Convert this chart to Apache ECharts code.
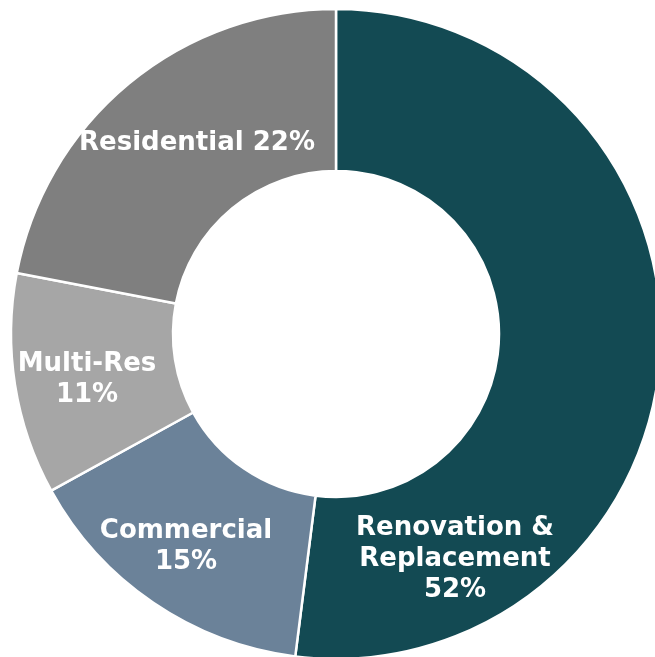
<!DOCTYPE html>
<html>
<head>
<meta charset="utf-8">
<style>
  html, body { margin: 0; padding: 0; background: #ffffff; }
  #chart { width: 655px; height: 657px; }
</style>
<script src="https://cdn.jsdelivr.net/npm/echarts@6/dist/echarts.min.js"></script>
</head>
<body>
<div id="chart"></div>
<script>
// Segment names (display text, with line breaks) and their shares in percent
const categories = ['Renovation &\nReplacement', 'Commercial', 'Multi-Res', 'Residential'];
const shares = [52, 15, 11, 22];
// How the percent is joined to the name: new line or same line
const joiners = ['\n', '\n', '\n', ' '];

// Slice colours
const colors = ['#134a53', '#6b8299', '#a6a6a6', '#7f7f7f'];
// Label centres in pixels
const labelCenters = [[455, 559], [186, 547], [87, 380], [197, 143]];

const chart = echarts.init(document.getElementById('chart'), null, { renderer: 'canvas' });

chart.setOption({
  animation: false,
  backgroundColor: '#ffffff',
  series: [{
    type: 'pie',
    center: [336, 334],
    radius: [163, 325],
    startAngle: 90,
    clockwise: true,
    avoidLabelOverlap: false,
    silent: true,
    itemStyle: { borderColor: '#ffffff', borderWidth: 2.5 },
    label: {
      show: true,
      position: 'inside',
      color: '#ffffff',
      fontFamily: 'DejaVu Sans',
      fontWeight: 'bold',
      fontSize: 26,
      lineHeight: 31,
      align: 'center',
      formatter: (p) => p.name + joiners[p.dataIndex] + p.value + '%'
    },
    labelLine: { show: false },
    labelLayout: (params) => ({
      x: labelCenters[params.dataIndex][0],
      y: labelCenters[params.dataIndex][1],
      align: 'center',
      verticalAlign: 'middle'
    }),
    data: categories.map((name, i) => ({
      name: name,
      value: shares[i],
      itemStyle: { color: colors[i] }
    }))
  }]
});
</script>
</body>
</html>
